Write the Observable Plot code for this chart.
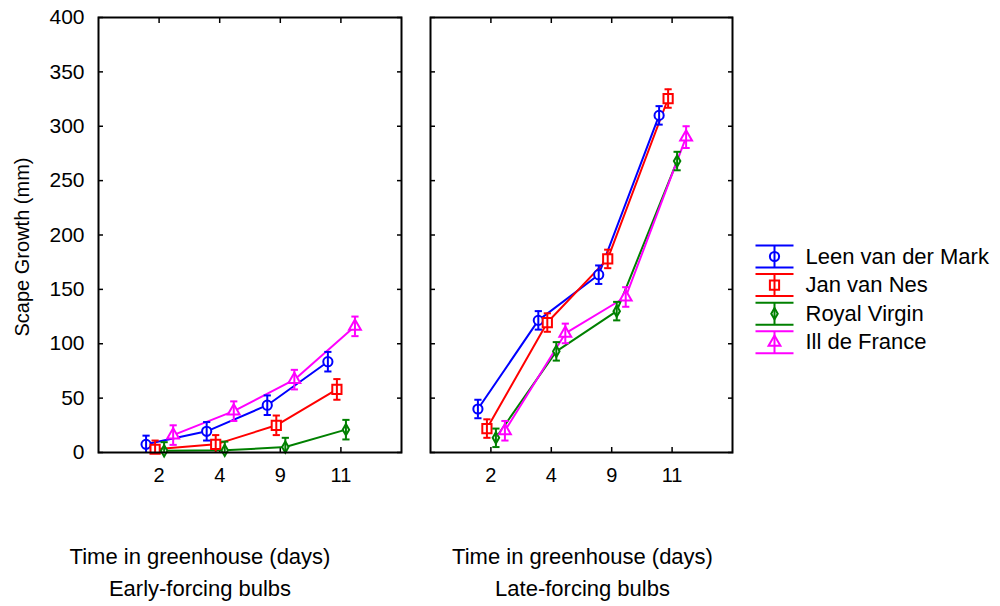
<!DOCTYPE html>
<html>
<head>
<meta charset="utf-8">
<script src="https://cdn.jsdelivr.net/npm/d3@7"></script>
<script src="https://cdn.jsdelivr.net/npm/@observablehq/plot@0.6"></script>
<style>
  body { margin: 0; background: #fff; font-family: "Liberation Sans", Arial, sans-serif; }
  #chart { position: relative; width: 1000px; height: 606px; }
  #chart > div { position: absolute; top: 0; }
  #early { left: 0; }
  #late { left: 410px; }
  #legend { left: 745px; top: 235px !important; }
</style>
</head>
<body>
<div id="chart">
  <div id="early"></div>
  <div id="late"></div>
  <div id="legend"></div>
</div>
<script>
// Cultivars and their drawing styles
const cultivars = ["Leen van der Mark", "Jan van Nes", "Royal Virgin", "Ill de France"];
const cultivarColors = ["#0000ff", "#ff0000", "#008000", "#ff00ff"];
const cultivarSymbols = ["circle", "square", "diamond", "triangle"];
const symbolRadius = [4.6, 5.2, 3.4, 4.4];
// horizontal shift of each cultivar around the day position (in day units)
const cultivarShift = [-0.215, -0.066, 0.083, 0.232];

// Days in greenhouse (x categories) and y ticks
const dayLabels = ["2", "4", "9", "11"];
const growthTicks = [0, 50, 100, 150, 200, 250, 300, 350, 400];

// Scape growth (mm): mean per cultivar for days 2, 4, 9, 11
const earlyMeans = [
  [7.5, 19.5, 43.5, 83.5],
  [3, 7.5, 25, 58],
  [1.5, 2, 5, 21],
  [16, 38, 67, 116]
];
const earlyErrors = [
  [8, 8.5, 9, 9],
  [8, 8.5, 9, 9.5],
  [8, 8, 8.5, 9],
  [9, 9, 9, 9]
];
const lateMeans = [
  [40, 121.5, 163.5, 310],
  [22, 119.5, 178, 325.5],
  [13.5, 93, 130, 268],
  [20, 109.5, 143, 290]
];
const lateErrors = [
  [8.5, 8.5, 8.5, 8.5],
  [8.5, 8.5, 8.5, 8.5],
  [8.5, 8.5, 8.5, 8.5],
  [9, 9, 9, 10]
];

const xTitle = "Time in greenhouse (days)";
const yTitle = "Scape Growth (mm)";
const panelTitles = ["Early-forcing bulbs", "Late-forcing bulbs"];

function buildRows(means, errors) {
  return means.flatMap((vals, s) => vals.map((v, k) => ({
    name: cultivars[s], s, day: k, v, e: errors[s][k]
  })));
}

// short horizontal bar used as an error-bar cap
const capSymbol = { draw(ctx) { ctx.moveTo(-3.6, 0); ctx.lineTo(3.6, 0); } };

const fontFamily = "'Liberation Sans', Arial, sans-serif";

function panel(means, errors, o) {
  const data = buildRows(means, errors);
  const px = d => d.day + 1 + cultivarShift[d.s];
  const dayTicks = dayLabels.map((_, i) => i + 1);
  return Plot.plot({
    width: o.width, height: 606,
    marginLeft: o.marginLeft, marginRight: o.marginRight, marginTop: 17, marginBottom: 154,
    style: { fontFamily, fontSize: "20px", color: "black", background: "white" },
    x: { domain: [0, 5], label: null },
    y: { domain: [0, 400], label: null },
    color: { domain: cultivars, range: cultivarColors },
    marks: [
      Plot.axisX({ anchor: "bottom", ticks: dayTicks, tickSize: -5, tickPadding: 20, strokeWidth: 1.5,
        tickFormat: i => dayLabels[i - 1], fontSize: 20, label: null }),
      Plot.axisX({ anchor: "top", ticks: dayTicks, tickSize: -5, strokeWidth: 1.5, fill: "none", stroke: "black", label: null }),
      o.showY
        ? Plot.axisY({ anchor: "left", ticks: growthTicks, tickSize: -5, tickPadding: 19, strokeWidth: 1.5, fontSize: 21, label: null })
        : Plot.axisY({ anchor: "left", ticks: growthTicks, tickSize: -5, strokeWidth: 1.5, fill: "none", stroke: "black", label: null }),
      Plot.axisY({ anchor: "right", ticks: growthTicks, tickSize: -5, strokeWidth: 1.5, fill: "none", stroke: "black", label: null }),
      Plot.line(data, { x: px, y: "v", z: "name", stroke: "name", strokeWidth: 2 }),
      ...cultivars.map((c, i) => Plot.dot(data.filter(d => d.s === i), {
        x: px, y: "v", symbol: cultivarSymbols[i], r: symbolRadius[i],
        stroke: "name", fill: "white", strokeWidth: 2
      })),
      Plot.ruleX(data, { x: px, y1: d => d.v - d.e, y2: d => d.v + d.e, stroke: "name", strokeWidth: 2, clip: true }),
      Plot.dot(data, { x: px, y: d => d.v + d.e, symbol: capSymbol, r: 3, stroke: "name", fill: "none", strokeWidth: 2, clip: true }),
      Plot.dot(data, { x: px, y: d => d.v - d.e, symbol: capSymbol, r: 3, stroke: "name", fill: "none", strokeWidth: 2, clip: true }),
      Plot.frame({ stroke: "black", strokeWidth: 2 }),
      o.showY ? Plot.text([yTitle], { frameAnchor: "left", textAnchor: "middle", rotate: -90, dx: -76, dy: 12, fontSize: 20, fill: "black" }) : null,
      Plot.text([xTitle], { frameAnchor: "bottom", dx: o.titleDx, dy: 111, fontSize: 22, fill: "black" }),
      Plot.text([o.title], { frameAnchor: "bottom", dx: o.titleDx, dy: 143, fontSize: 22, fill: "black" })
    ]
  });
}

document.getElementById("early").append(panel(earlyMeans, earlyErrors, {
  width: 410, marginLeft: 98, marginRight: 9, showY: true, titleDx: -50, title: panelTitles[0]
}));
document.getElementById("late").append(panel(lateMeans, lateErrors, {
  width: 330, marginLeft: 20, marginRight: 8, showY: false, titleDx: 1, title: panelTitles[1]
}));

// Legend: whisker symbol with marker, then cultivar name
const legendRows = cultivars.map((name, i) => ({ name, i }));
const rowY = r => 21 + r.i * 28.6;
const legend = Plot.plot({
  width: 255, height: 130, margin: 0,
  style: { fontFamily, background: "transparent", color: "black" },
  x: { type: "identity", axis: null },
  y: { type: "identity", axis: null },
  color: { domain: cultivars, range: cultivarColors },
  marks: [
    Plot.link(legendRows, { x1: 10, x2: 48, y1: r => rowY(r) - 11, y2: r => rowY(r) - 11, stroke: "name", strokeWidth: 2 }),
    Plot.link(legendRows, { x1: 10, x2: 48, y1: r => rowY(r) + 11, y2: r => rowY(r) + 11, stroke: "name", strokeWidth: 2 }),
    ...legendRows.map(r => Plot.dot([r], { x: 29, y: rowY, symbol: cultivarSymbols[r.i], r: symbolRadius[r.i],
      stroke: "name", fill: "white", strokeWidth: 2 })),
    Plot.link(legendRows, { x1: 29, x2: 29, y1: r => rowY(r) - 11, y2: r => rowY(r) + 11, stroke: "name", strokeWidth: 2 }),
    Plot.text(legendRows, { x: 60, y: rowY, text: "name", textAnchor: "start", fontSize: 22, fill: "black" })
  ]
});
document.getElementById("legend").append(legend);
</script>
</body>
</html>
